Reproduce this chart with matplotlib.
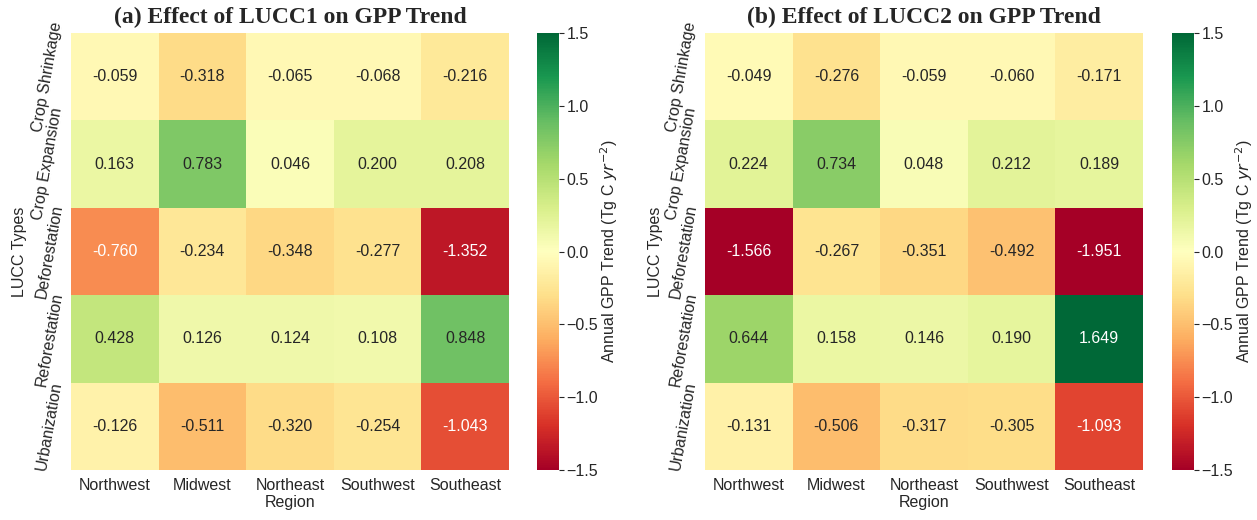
import numpy as np
import matplotlib
matplotlib.use('Agg')
import matplotlib.pyplot as plt
import seaborn as sns

sns.set_style('white')
plt.rcParams['font.family'] = ['Liberation Sans', 'DejaVu Sans']
plt.rcParams['font.size'] = 11.5

# data
regions = ['Northwest', 'Midwest', 'Northeast', 'Southwest', 'Southeast']
lucc_types = ['Crop Shrinkage', 'Crop Expansion', 'Deforestation', 'Reforestation', 'Urbanization']

lucc1 = [[-0.059, -0.318, -0.065, -0.068, -0.216],
         [0.163, 0.783, 0.046, 0.200, 0.208],
         [-0.760, -0.234, -0.348, -0.277, -1.352],
         [0.428, 0.126, 0.124, 0.108, 0.848],
         [-0.126, -0.511, -0.320, -0.254, -1.043]]

lucc2 = [[-0.049, -0.276, -0.059, -0.060, -0.171],
         [0.224, 0.734, 0.048, 0.212, 0.189],
         [-1.566, -0.267, -0.351, -0.492, -1.951],
         [0.644, 0.158, 0.146, 0.190, 1.649],
         [-0.131, -0.506, -0.317, -0.305, -1.093]]

titles = ['(a) Effect of LUCC1 on GPP Trend', '(b) Effect of LUCC2 on GPP Trend']

W, H = 1257, 520
fig = plt.figure(figsize=(W / 100, H / 100), dpi=100)

def px(x0, y0, w, h):
    # pixel box (left, top, width, height) -> figure fraction
    return [x0 / W, 1 - (y0 + h) / H, w / W, h / H]

layout = [(71, 537, -0.100), (705, 1172, -0.096)]

for data, title, (hx, cx, ylab_x) in zip([lucc1, lucc2], titles, layout):
    ax = fig.add_axes(px(hx, 33, 438, 437))
    cax = fig.add_axes(px(cx, 33, 22, 437))
    sns.heatmap(np.array(data), ax=ax, cbar_ax=cax, cmap='RdYlGn', vmin=-1.5, vmax=1.5,
                annot=True, fmt='.3f', annot_kws={'size': 11.5},
                xticklabels=regions, yticklabels=lucc_types)
    ax.set_title(title, fontfamily='Liberation Serif', fontweight='bold', fontsize=17, pad=7)
    ax.set_xlabel('Region', fontsize=11.5, labelpad=2)
    ax.set_ylabel('LUCC Types', fontsize=11.5)
    ax.yaxis.set_label_coords(ylab_x, 0.5)
    ax.tick_params(axis='x', labelrotation=0, pad=2)
    plt.setp(ax.get_yticklabels(), rotation=80, va='center', ha='right')
    ax.tick_params(axis='y', pad=1)
    cax.set_yticks([-1.5, -1.0, -0.5, 0.0, 0.5, 1.0, 1.5])
    cax.tick_params(labelsize=11.5, pad=2)
    cax.set_ylabel(r'Annual GPP Trend (Tg C $yr^{-2}$)', fontsize=11.5, labelpad=0)

plt.savefig('out.png', dpi=100)
